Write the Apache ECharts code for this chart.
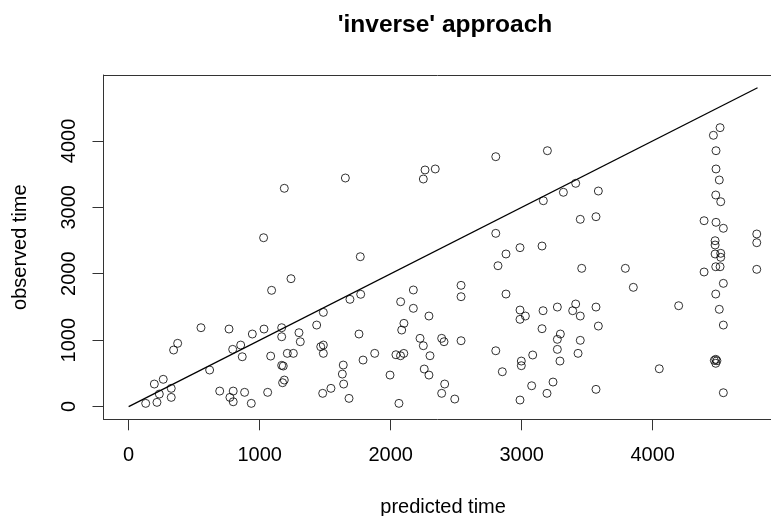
<!DOCTYPE html>
<html>
<head>
<meta charset="utf-8">
<script src="https://cdn.jsdelivr.net/npm/echarts@6/dist/echarts.min.js"></script>
<style>
html,body{margin:0;padding:0;background:#fff;}
#chart{width:771px;height:516px;}
</style>
</head>
<body>
<div id="chart"></div>
<script>
// Data
var predicted = [130,216,196,234,264,325,325,343,374,552,618,695,766,773,794,798,798,855,867,885,936,944,1030,1033,1061,1084,1091,1168,1168,1168,1180,1175,1188,1188,1211,1239,1257,1300,1310,1435,1466,1486,1486,1486,1481,1544,1638,1631,1641,1682,1654,1689,1771,1758,1768,1789,1878,1995,
  2040,2075,2100,2063,2084,2101,2076,2173,2173,2292,2224,2249,2300,2256,2292,2389,2407,2412,2389,2489,2537,2537,2537,2262,2249,2340,
  2802,2802,2880,2819,2880,2802,2852,2987,3155,2987,2987,3028,3163,3155,2997,2997,3084,3076,2987,3193,3239,3272,3295,3272,3272,3292,3165,3196,3318,
  3412,3447,3567,3585,3412,3389,3447,3458,3567,3585,3447,3430,3567,3791,3852,4050,4198,
  4514,4463,4483,4483,4508,4481,4519,4392,4483,4539,4476,4476,4476,4519,4519,4481,4514,4392,4539,4481,4508,4539,4481,4470,4490,4481,4539,4794,4794,4794];
var observed = [48,63,339,188,410,274,138,851,952,1187,550,233,1167,138,861,233,72,926,750,214,48,1092,2542,1167,214,760,1750,1187,1051,620,610,359,399,3286,801,1925,801,1112,976,1227,901,926,801,1418,199,274,625,489,339,123,3441,1614,1690,1092,2256,700,801,474,
  780,765,800,48,1152,1253,1578,1755,1479,1363,1027,916,765,565,474,1027,976,339,199,113,991,1825,1654,3562,3426,3577,
  3762,2608,2297,2120,1694,840,524,2392,2417,1453,1313,1363,1443,1172,685,615,776,313,98,199,369,1498,1092,1012,861,685,3099,3852,3226,
  3361,2819,2858,3245,1544,1443,1363,2081,1498,1212,997,801,259,2081,1795,569,1518,
  4199,4084,3852,3577,3411,3185,3084,2798,2774,2684,2497,2432,2297,2307,2247,2105,2105,2026,1855,1694,1464,1227,711,695,690,651,208,2598,2467,2066];
var lineX = [0, 4800];
var lineY = [0, 4800];
var tickValues = [0, 1000, 2000, 3000, 4000];
var titleText = "'inverse' approach";
var xName = 'predicted time';
var yName = 'observed time';

var points = predicted.map(function(v, i){ return [v, observed[i]]; });
var linePts = lineX.map(function(v, i){ return [v, lineY[i]]; });

var font = 'Liberation Sans, Arial, sans-serif';
var plain = function(v){ return String(v); };
var boxLine = {show: true, onZero: false, lineStyle: {color: '#333', width: 1}};
var chart = echarts.init(document.getElementById('chart'), null, {renderer:'canvas'});
chart.setOption({
  animation: false,
  backgroundColor: '#fff',
  title: {
    text: titleText, left: 445, top: 13, textAlign: 'center', padding: 0,
    textStyle: {fontFamily: font, fontSize: 24.5, fontWeight: 'bold', color: '#000'}
  },
  grid: {left: 103.5, top: 75, width: 679.2, height: 344.3, show: false, containLabel: false, outerBoundsMode: 'none'},
  xAxis: [{
    type: 'value', min: -192, max: 4992, position: 'bottom',
    name: xName, nameLocation: 'middle', nameGap: 78,
    nameTextStyle: {fontFamily: font, fontSize: 20, color: '#000'},
    axisLine: boxLine,
    splitLine: {show: false},
    axisTick: {show: true, inside: false, length: 11, customValues: tickValues, lineStyle: {color: '#333', width: 1}},
    axisLabel: {show: true, margin: 26, customValues: tickValues, formatter: plain, fontFamily: font, fontSize: 20, color: '#000'}
  }, {
    type: 'value', min: -192, max: 4992, position: 'top',
    axisLine: boxLine, axisTick: {show: false}, axisLabel: {show: false}, splitLine: {show: false}
  }],
  yAxis: {
    type: 'value', min: -192, max: 4992, position: 'left',
    name: yName, nameLocation: 'middle', nameGap: 73,
    nameTextStyle: {fontFamily: font, fontSize: 20, color: '#000'},
    axisLine: boxLine,
    splitLine: {show: false},
    axisTick: {show: true, inside: false, length: 11, customValues: tickValues, lineStyle: {color: '#333', width: 1}},
    axisLabel: {show: true, rotate: 90, margin: 24, customValues: tickValues, formatter: plain, fontFamily: font, fontSize: 20, color: '#000'}
  },
  series: [
    {
      type: 'scatter', data: points, symbol: 'circle', symbolSize: 8, silent: true,
      itemStyle: {color: 'rgba(0,0,0,0)', borderColor: '#000', borderWidth: 1}
    },
    {
      type: 'line', data: linePts, showSymbol: false, silent: true,
      lineStyle: {color: '#000', width: 1.3}
    }
  ]
});
</script>
</body>
</html>
